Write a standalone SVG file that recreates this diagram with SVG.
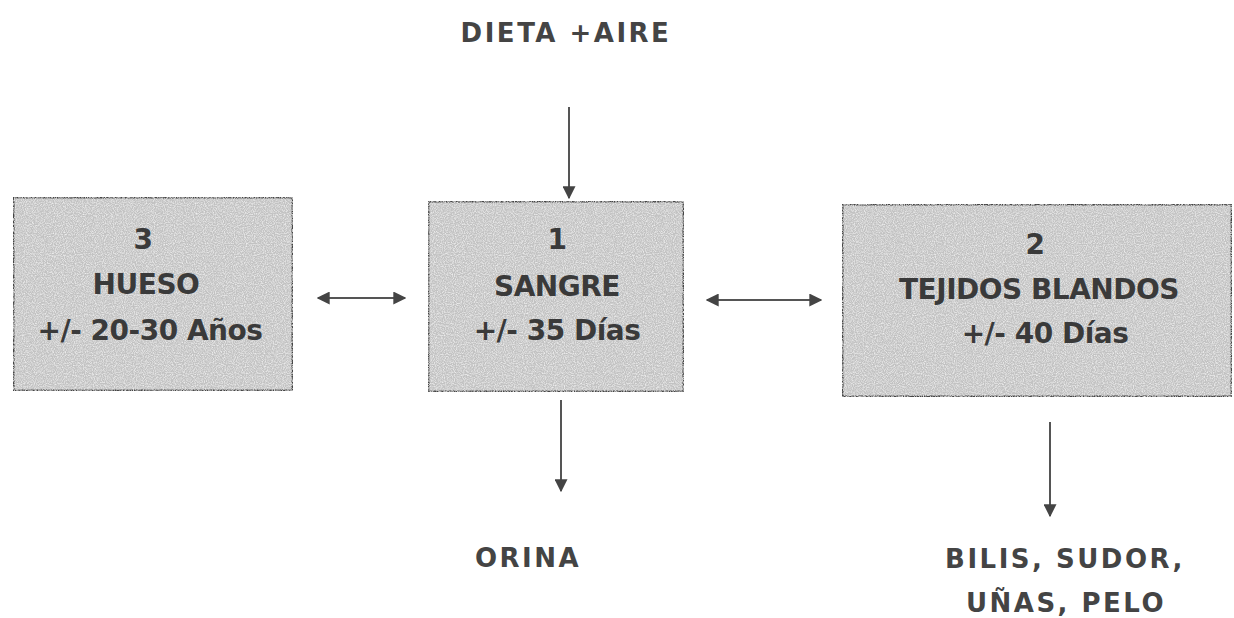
<svg xmlns="http://www.w3.org/2000/svg" width="1234" height="618" viewBox="0 0 1234 618">
<style>
.box{fill:#c2c2c2;stroke:#444;stroke-width:3}
.tx{font-family:"DejaVu Sans",sans-serif;font-weight:bold;font-size:28px;fill:#3a3a3a;text-anchor:middle;letter-spacing:-0.5px}
.lb{font-family:"DejaVu Sans",sans-serif;font-weight:bold;font-size:26px;fill:#444;text-anchor:middle;letter-spacing:2.5px}
.ln{stroke:#555;stroke-width:2;fill:none}
</style>
<defs>
<marker id="ah" viewBox="0 0 10 10" refX="9" refY="5" markerWidth="13" markerHeight="13" markerUnits="userSpaceOnUse" orient="auto-start-reverse">
<path d="M0,0 L10,5 L0,10 z" fill="#444"/>
</marker>
<filter id="grain" x="0" y="0" width="100%" height="100%">
<feTurbulence type="fractalNoise" baseFrequency="0.9" numOctaves="2" seed="3" result="n"/>
<feColorMatrix in="n" type="matrix" values="0 0 0 0 0.86  0 0 0 0 0.86  0 0 0 0 0.86  0 0 0 2 -0.75" result="g"/>
<feComposite in="g" in2="SourceGraphic" operator="in" result="gi"/>
<feMerge><feMergeNode in="SourceGraphic"/><feMergeNode in="gi"/></feMerge>
</filter>
</defs>
<rect width="1234" height="618" fill="#fff"/>
<g id="connectors">
<line class="ln" x1="569" y1="107" x2="569" y2="198" marker-end="url(#ah)"/>
<line class="ln" x1="318" y1="298" x2="405" y2="298" marker-start="url(#ah)" marker-end="url(#ah)"/>
<line class="ln" x1="707" y1="300" x2="821" y2="300" marker-start="url(#ah)" marker-end="url(#ah)"/>
<line class="ln" x1="561" y1="400" x2="561" y2="491" marker-end="url(#ah)"/>
<line class="ln" x1="1050" y1="422" x2="1050" y2="516" marker-end="url(#ah)"/>
</g>
<g id="hueso">
<rect class="box" x="13" y="197" width="280" height="194" filter="url(#grain)"/>
<text class="tx" x="143" y="249">3</text>
<text class="tx" x="146" y="294">HUESO</text>
<text class="tx" x="150" y="340">+/- 20-30 Años</text>
</g>
<g id="sangre">
<rect class="box" x="428" y="201" width="256" height="191" filter="url(#grain)"/>
<text class="tx" x="557" y="249">1</text>
<text class="tx" x="557" y="296">SANGRE</text>
<text class="tx" x="557" y="340">+/- 35 Días</text>
</g>
<g id="tejidos">
<rect class="box" x="842" y="204" width="390" height="193" filter="url(#grain)"/>
<text class="tx" x="1035" y="254">2</text>
<text class="tx" x="1039" y="299">TEJIDOS BLANDOS</text>
<text class="tx" x="1045" y="343">+/- 40 Días</text>
</g>
<g id="dieta">
<text class="lb" x="566" y="42">DIETA +AIRE</text>
</g>
<g id="orina">
<text class="lb" x="528" y="567">ORINA</text>
</g>
<g id="bilis">
<text class="lb" x="1065" y="568">BILIS, SUDOR,</text>
<text class="lb" x="1066" y="612">UÑAS, PELO</text>
</g>
</svg>
